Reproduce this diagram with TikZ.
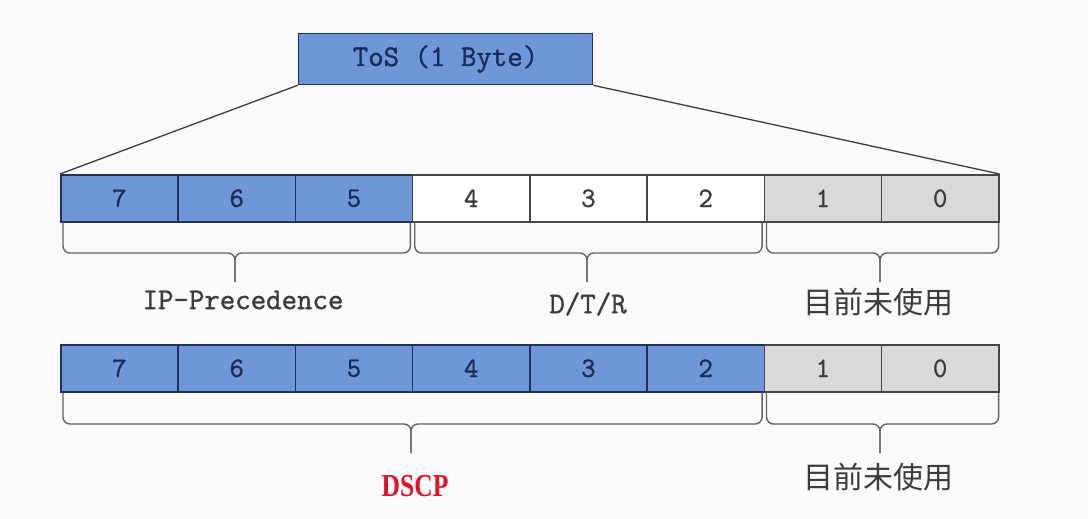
\documentclass[tikz,border=0pt]{standalone}
\usepackage{fontspec}
\newfontfamily\cjk{Noto Sans CJK SC}
\newfontfamily\bitfont[FakeBold=1.2]{Latin Modern Mono}
\newfontfamily\dscpfont[FakeStretch=0.8]{Liberation Serif}
\definecolor{tosblue}{RGB}{111,151,216}
\definecolor{tosedge}{RGB}{30,50,90}
\definecolor{tostext}{RGB}{25,45,90}
\definecolor{unusedgray}{RGB}{217,217,217}
\definecolor{grayedge}{RGB}{70,70,70}
\definecolor{labelgray}{RGB}{60,60,60}
\definecolor{dscpred}{RGB}{220,20,40}
\definecolor{bggray}{RGB}{250,250,250}
\begin{document}
\begin{tikzpicture}[x=1pt, y=-1pt,
  bit/.style={draw, line width=1.6pt, minimum width=117.25pt, minimum height=47pt, inner sep=0pt, anchor=north west, font=\bitfont\fontsize{28}{28}\selectfont},
  hi/.style={bit, fill=tosblue, draw=tosedge, text=tostext},
  lo/.style={bit, fill=white, draw=grayedge, text=labelgray},
  unused/.style={bit, fill=unusedgray, draw=grayedge, text=labelgray},
  brace/.style={draw=labelgray!80, line width=1.4pt, rounded corners=7pt},
  lbl/.style={text=labelgray, font=\bitfont\fontsize{30}{30}\selectfont},
  cjklbl/.style={text=labelgray, font=\cjk\fontsize{30}{30}\selectfont}]
  \fill[bggray] (0,0) rectangle (1088,519);
  \useasboundingbox (0,0) rectangle (1088,519);
  \node[draw=tosedge, fill=tosblue, line width=1.6pt, minimum width=294pt, minimum height=51pt, text=tostext, font=\bitfont\fontsize{30}{30}\selectfont] (tos) at (445.5,59) {ToS (1 Byte)};
  \foreach \b/\s in {7/hi,6/hi,5/hi,4/lo,3/lo,2/lo,1/unused,0/unused}
    \node[\s] (t\b) at ({60+(7-\b)*117.25},174) {\b};
  \foreach \b/\s in {7/hi,6/hi,5/hi,4/hi,3/hi,2/hi,1/unused,0/unused}
    \node[\s] (d\b) at ({60+(7-\b)*117.25},344) {\b};
  \draw[labelgray, line width=1.3pt] (tos.south west) -- (t7.north west) (tos.south east) -- (t0.north east);
  \coordinate (ipTip) at (235,282);
  \coordinate (dtrTip) at (587,282);
  \coordinate (freeTip) at (880,282);
  \coordinate (dscpTip) at (411,453);
  \coordinate (restTip) at (880,453);
  \draw[brace] ([xshift=3pt]t7.south west) |- ([yshift=29pt]ipTip) -- (ipTip);
  \draw[brace] ([xshift=-3pt]t5.south east) |- ([yshift=29pt]ipTip) -- (ipTip);
  \draw[brace] ([xshift=3pt]t4.south west) |- ([yshift=29pt]dtrTip) -- (dtrTip);
  \draw[brace] ([xshift=-3pt]t2.south east) |- ([yshift=29pt]dtrTip) -- (dtrTip);
  \draw[brace] ([xshift=3pt]t1.south west) |- ([yshift=29pt]freeTip) -- (freeTip);
  \draw[brace] ([xshift=-1pt]t0.south east) |- ([yshift=29pt]freeTip) -- (freeTip);
  \draw[brace] ([xshift=3pt]d7.south west) |- ([yshift=29pt]dscpTip) -- (dscpTip);
  \draw[brace] ([xshift=-3pt]d2.south east) |- ([yshift=29pt]dscpTip) -- (dscpTip);
  \draw[brace] ([xshift=3pt]d1.south west) |- ([yshift=29pt]restTip) -- (restTip);
  \draw[brace] ([xshift=-1pt]d0.south east) |- ([yshift=29pt]restTip) -- (restTip);
  \node[lbl] (ipLbl) at (243,300) {IP-Precedence};
  \node[lbl] (dtrLbl) at (588,304) {D/T/R};
  \node[cjklbl] (freeLbl) at (878,302) {目前未使用};
  \node[text=dscpred, font=\dscpfont\bfseries\fontsize{32}{32}\selectfont] (dscpLbl) at (415,486) {DSCP};
  \node[cjklbl] (restLbl) at (878,477) {目前未使用};
\end{tikzpicture}
\end{document}
